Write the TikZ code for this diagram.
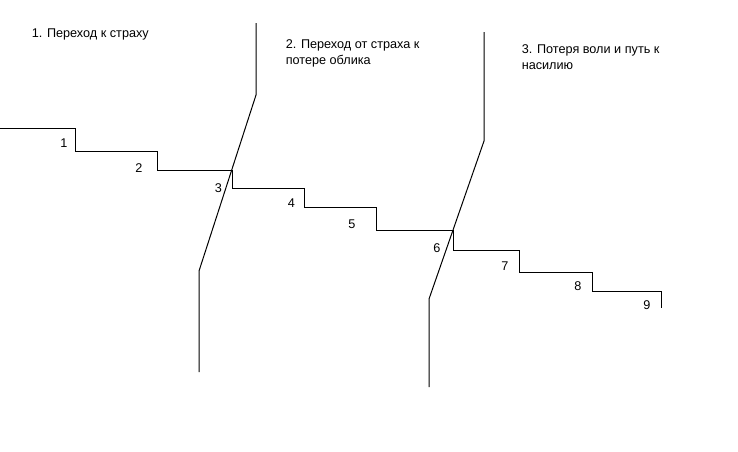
\documentclass[tikz,border=0pt]{standalone}
\usepackage{fontspec}
\setmainfont{Liberation Sans}
\begin{document}
\begin{tikzpicture}[x=0.75pt,y=-0.75pt,
  line/.style={draw=black,line width=0.75pt},
  title/.style={anchor=base west,inner sep=0pt,align=left,font=\fontsize{9.5}{12}\selectfont},
  num/.style={anchor=center,inner sep=0pt,font=\fontsize{9.5}{12}\selectfont}]
\useasboundingbox[fill=white] (0,0) rectangle (738,451);
% staircase
\coordinate (s0) at (0,128);
\coordinate (s1) at (75,128);
\coordinate (s2) at (75,151);
\coordinate (s3) at (157,151);
\coordinate (s4) at (157,170);
\coordinate (s5) at (232,170);
\coordinate (s6) at (232,188);
\coordinate (s7) at (304,188);
\coordinate (s8) at (304,207);
\coordinate (s9) at (376,207);
\coordinate (s10) at (376,230);
\coordinate (s11) at (453,230);
\coordinate (s12) at (453,250);
\coordinate (s13) at (519,250);
\coordinate (s14) at (519,272);
\coordinate (s15) at (592,272);
\coordinate (s16) at (592,291);
\coordinate (s17) at (661,291);
\coordinate (s18) at (661,308);
\draw[line] (s0)--(s1)--(s2)--(s3)--(s4)--(s5)--(s6)--(s7)--(s8)--(s9)--(s10)--(s11)--(s12)--(s13)--(s14)--(s15)--(s16)--(s17)--(s18);
% dividing lines
\coordinate (a0) at (256,23);
\coordinate (a1) at (256,95);
\coordinate (a2) at (199,271);
\coordinate (a3) at (199,372);
\draw[line] (a0)--(a1)--(a2)--(a3);
\coordinate (b0) at (484,32);
\coordinate (b1) at (484,141);
\coordinate (b2) at (429,299);
\coordinate (b3) at (429,387);
\draw[line] (b0)--(b1)--(b2)--(b3);
% titles
\node[title] (t1) at (31.5,37.5) {1. Переход к страху};
\node[title] (t2) at (285.5,64.3) {2. Переход от страха к\\потере облика};
\node[title] (t3) at (521.5,69.3) {3. Потеря воли и путь к\\насилию};
% step numbers
\node[num] (n1) at (64,143) {1};
\node[num] (n2) at (139,168) {2};
\node[num] (n3) at (218.5,188) {3};
\node[num] (n4) at (291.5,203) {4};
\node[num] (n5) at (352,224) {5};
\node[num] (n6) at (437,248) {6};
\node[num] (n7) at (505,266) {7};
\node[num] (n8) at (578,286) {8};
\node[num] (n9) at (647,305.5) {9};
\end{tikzpicture}
\end{document}
